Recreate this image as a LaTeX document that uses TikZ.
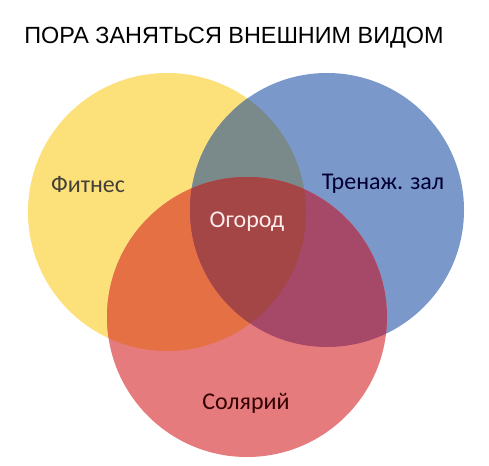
\documentclass[tikz,border=0pt]{standalone}
\usepackage{fontspec}
\setmainfont{Liberation Sans}
\newfontfamily\labelfont{Carlito}

\definecolor{fityellow}{HTML}{FCE17A}
\definecolor{gymblue}{HTML}{7B98CB}
\definecolor{sunred}{HTML}{E67B7E}
\definecolor{ybgray}{HTML}{7A8A8A}
\definecolor{yrorange}{HTML}{E57043}
\definecolor{brpurple}{HTML}{A64868}
\definecolor{allred}{HTML}{A44546}

\tikzset{
	setlabel/.style={font=\labelfont\fontsize{24}{28}\selectfont, inner sep=0pt},
}

\begin{document}
\begin{tikzpicture}[x=1pt,y=-1pt]
%
	\useasboundingbox (0,0) rectangle (489,465);
	\fill[white] (0,0) rectangle (489,465);
%
	\coordinate (cy) at (167,212);
	\coordinate (cb) at (327,210);
	\coordinate (cr) at (247,317);
%
	\fill[fityellow] (cy) circle (139);
	\fill[gymblue] (cb) circle (137);
	\fill[sunred] (cr) circle (140);
	\begin{scope}
		\clip (cy) circle (139);
		\fill[ybgray] (cb) circle (137);
		\fill[yrorange] (cr) circle (140);
	\end{scope}
	\begin{scope}
		\clip (cb) circle (137);
		\fill[brpurple] (cr) circle (140);
		\clip (cy) circle (139);
		\fill[allred] (cr) circle (140);
	\end{scope}
%
	\node[font=\fontsize{23.4}{28}\selectfont] (title) at (234,38) {ПОРА ЗАНЯТЬСЯ ВНЕШНИМ ВИДОМ};
	\node[setlabel, text=black!85!yellow] (fitness) at (88,185) {Фитнес};
	\node[setlabel, text=black!80!blue] (gym) at (383,184) {Тренаж. зал};
	\node[setlabel, text=red!8!white] (garden) at (247,222) {Огород};
	\node[setlabel, text=black!80!red] (solarium) at (246,403) {Солярий};
\end{tikzpicture}
\end{document}
